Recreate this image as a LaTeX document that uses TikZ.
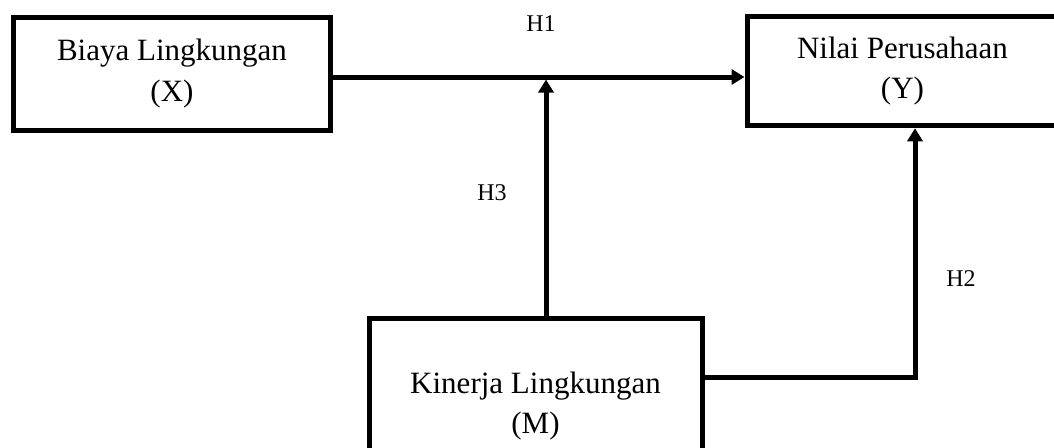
\documentclass[tikz,border=0pt]{standalone}
\usepackage{fontspec}
\setmainfont{Liberation Serif}
\usetikzlibrary{arrows.meta}
\begin{document}
\begin{tikzpicture}[x=1pt,y=-1pt,
  box/.style={draw=black,line width=5pt,fill=white,align=center,inner sep=0pt,
    font=\fontsize{31}{40.5}\selectfont},
  conn/.style={line width=5pt,line join=miter,-{Triangle[length=13pt,width=15pt]}},
  lab/.style={font=\fontsize{24}{28}\selectfont,inner sep=0pt}]
\clip (0,0) rectangle (1054,447);
\useasboundingbox (0,0) rectangle (1054,447);
\fill[white] (0,0) rectangle (1054,447);
\node[box,minimum width=317.5pt,minimum height=113pt] (X) at (172,73.5) {Biaya Lingkungan\\(X)};
\node[box,minimum width=311pt,minimum height=109.5pt] (Y) at (902.5,71) {Nilai Perusahaan\\(Y)};
\node[box,minimum width=333pt,minimum height=176pt] (M) at (535.5,406) {Kinerja Lingkungan\\(M)};
\coordinate (j) at (546,77);
\coordinate (jb) at (546,79.5);
\coordinate (c) at (915,377);
\draw[conn] (X.east |- j) -- (Y.west |- j);
\draw[conn] (M.north -| jb) -- (jb);
\draw[conn] (M.east |- c) -- (c) -- (Y.south -| c);
\node[lab] (h1) at (541,24) {H1};
\node[lab] (h3) at (492,193) {H3};
\node[lab] (h2) at (961,279) {H2};
\end{tikzpicture}
\end{document}
